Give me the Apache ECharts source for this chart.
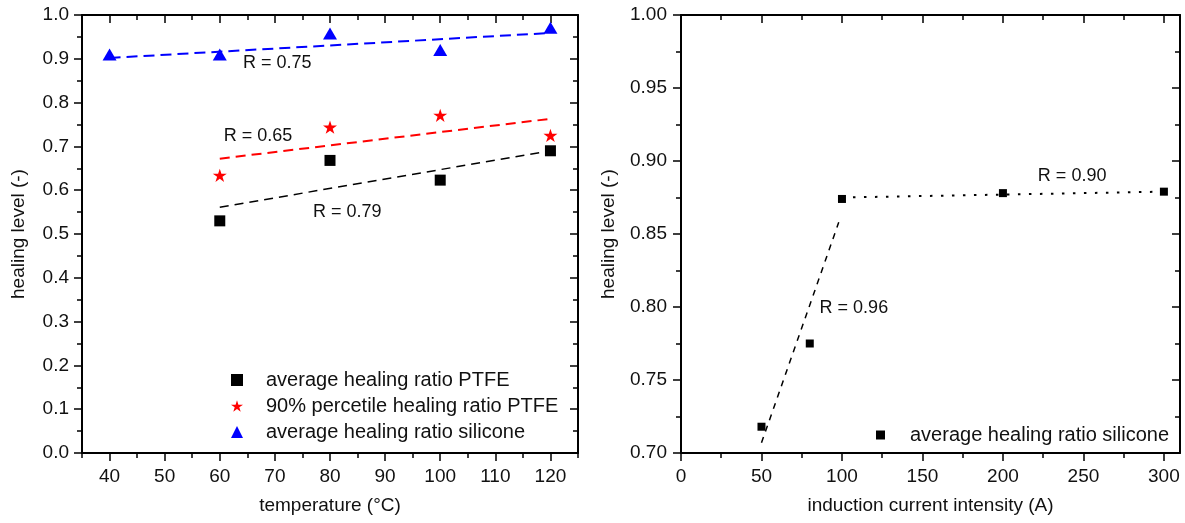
<!DOCTYPE html>
<html>
<head>
<meta charset="utf-8">
<script src="https://cdn.jsdelivr.net/npm/echarts@6/dist/echarts.min.js"></script>
<style>
  html, body { margin: 0; padding: 0; background: #fff; }
  #chart { width: 1185px; height: 523px; }
</style>
</head>
<body>
<div id="chart"></div>
<script>
// --- Données : panneau gauche (température) ---
const temperature = [60, 80, 100, 120];
const ptfeAverage = [0.530, 0.668, 0.623, 0.690];
const ptfeP90 = [0.634, 0.744, 0.771, 0.725];
const siliconeTemperature = [40, 60, 80, 100, 120];
const siliconeAverage = [0.910, 0.910, 0.958, 0.920, 0.971];

// droites de régression (extrémités)
const ptfeAverageFitX = [60, 120];
const ptfeAverageFitY = [0.561, 0.690];
const ptfeP90FitX = [60, 120];
const ptfeP90FitY = [0.672, 0.763];
const siliconeFitX = [40, 120];
const siliconeFitY = [0.902, 0.959];

const leftRText = ['R = 0.75', 'R = 0.65', 'R = 0.79'];
const leftRX = [64.2, 60.7, 76.9];
const leftRY = [0.890, 0.724, 0.550];

// --- Données : panneau droit (intensité) ---
const current = [50, 80, 100, 200, 300];
const siliconeCurrent = [0.718, 0.775, 0.874, 0.878, 0.879];
const steepFitX = [50, 98];
const steepFitY = [0.707, 0.858];
const flatFitX = [100, 300];
const flatFitY = [0.875, 0.879];

const rightRText = ['R = 0.96', 'R = 0.90'];
const rightRX = [86.1, 221.7];
const rightRY = [0.799, 0.890];

// --- Graduations ---
const leftXMajor = [40, 50, 60, 70, 80, 90, 100, 110, 120];
const leftXMinor = [35, 45, 55, 65, 75, 85, 95, 105, 115, 125];
const leftYMajor = [0, 0.1, 0.2, 0.3, 0.4, 0.5, 0.6, 0.7, 0.8, 0.9, 1.0];
const leftYMinor = [0.05, 0.15, 0.25, 0.35, 0.45, 0.55, 0.65, 0.75, 0.85, 0.95];
const rightXMajor = [0, 50, 100, 150, 200, 250, 300];
const rightXMinor = [25, 75, 125, 175, 225, 275];
const rightYMajor = [0.70, 0.75, 0.80, 0.85, 0.90, 0.95, 1.00];
const rightYMinor = [0.725, 0.775, 0.825, 0.875, 0.925, 0.975];

const FONT = '"Liberation Sans", Arial, sans-serif';
const TEXT = '#111';

const zip = (xs, ys) => xs.map((x, i) => [x, ys[i]]);

/**
 * Construit les 4 axes d'une direction (principal + mineur, de chaque côté du cadre)
 */
function frameAxes(gridIndex, min, max, majors, minors, sides, opts) {
    const axes = [];
    sides.forEach((pos, i) => {
        const outer = i === 0;
        [[majors, 8], [minors, 5]].forEach(([vals, len], j) => {
            const a = {
                type: 'value', gridIndex, min, max, position: pos,
                splitLine: { show: false },
                axisLine: { show: false, onZero: false },
                axisTick: {
                    show: true, inside: !outer, length: len, customValues: vals,
                    lineStyle: { color: '#000', width: 1.5 }
                },
                axisLabel: { show: false }
            };
            if (j === 0) {
                a.axisLine = { show: true, onZero: false, lineStyle: { color: '#000', width: 2 } };
                if (outer) {
                    a.axisLabel = {
                        show: true, customValues: majors, margin: opts.margin,
                        formatter: v => v.toFixed(opts.digits),
                        fontSize: 19, color: TEXT, fontFamily: FONT
                    };
                    a.name = opts.name;
                    a.nameLocation = 'middle';
                    a.nameGap = opts.gap;
                    a.nameTextStyle = { fontSize: 19, color: TEXT, fontFamily: FONT };
                }
            }
            axes.push(a);
        });
    });
    return axes;
}

const xAxis = [
    ...frameAxes(0, 35, 125, leftXMajor, leftXMinor, ['bottom', 'top'],
        { digits: 0, margin: 14, name: 'temperature (°C)', gap: 43 }),
    ...frameAxes(1, 0, 310, rightXMajor, rightXMinor, ['bottom', 'top'],
        { digits: 0, margin: 14, name: 'induction current intensity (A)', gap: 43 })
];
const yAxis = [
    ...frameAxes(0, 0, 1, leftYMajor, leftYMinor, ['left', 'right'],
        { digits: 1, margin: 13, name: 'healing level (-)', gap: 54 }),
    ...frameAxes(1, 0.7, 1.0, rightYMajor, rightYMinor, ['left', 'right'],
        { digits: 2, margin: 14, name: 'healing level (-)', gap: 63 })
];

const STAR = 'path://M50,0L61.2,34.5L97.6,34.5L68.2,55.9L79.4,90.5L50,69.1L20.6,90.5L31.8,55.9L2.4,34.5L38.8,34.5Z';

function scatter(name, grid, data, symbol, size, color) {
    return {
        type: 'scatter', name, xAxisIndex: grid * 4, yAxisIndex: grid * 4,
        data, symbol, symbolSize: size, symbolKeepAspect: true,
        itemStyle: { color, opacity: 1 }, z: 5
    };
}

function fit(grid, xs, ys, color, type, width) {
    return {
        type: 'line', xAxisIndex: grid * 4, yAxisIndex: grid * 4,
        data: zip(xs, ys), symbol: 'none', silent: true,
        lineStyle: { color, type, width }, z: 3
    };
}

function rLabels(grid, texts, xs, ys) {
    return {
        type: 'scatter', xAxisIndex: grid * 4, yAxisIndex: grid * 4,
        symbolSize: 0, silent: true,
        itemStyle: { opacity: 1 },
        data: texts.map((t, i) => ({ name: t, value: [xs[i], ys[i]] })),
        label: {
            show: true, position: 'right', distance: 0, formatter: '{b}',
            fontSize: 18, color: TEXT, fontFamily: FONT
        }
    };
}

const names = [
    'average healing ratio PTFE',
    '90% percetile healing ratio PTFE',
    'average healing ratio silicone',
    'average healing ratio silicone ' // panneau droit
];

const legendText = (padLeft) => ({
    fontSize: 20, lineHeight: 20, color: TEXT, fontFamily: FONT,
    padding: [0, 0, 0, padLeft]
});

const option = {
    backgroundColor: '#fff',
    animation: false,
    grid: [
        { left: 82, right: 607, top: 15, bottom: 70 },
        { left: 681, right: 5, top: 15, bottom: 70 }
    ],
    xAxis,
    yAxis,
    legend: [
        {
            data: names.slice(0, 3), orient: 'vertical', left: 226, top: 365,
            itemWidth: 12, itemHeight: 12, itemGap: 6, selectedMode: false,
            textStyle: legendText(18)
        },
        {
            data: [names[3]], orient: 'vertical', left: 871, top: 420,
            itemWidth: 9, itemHeight: 9, selectedMode: false,
            textStyle: legendText(20)
        }
    ],
    series: [
        fit(0, ptfeAverageFitX, ptfeAverageFitY, '#000', [9, 6], 1.5),
        fit(0, ptfeP90FitX, ptfeP90FitY, '#ff0000', [10, 6], 2),
        fit(0, siliconeFitX, siliconeFitY, '#0000ff', [11, 6], 2),
        scatter(names[0], 0, zip(temperature, ptfeAverage), 'rect', 11, '#000'),
        scatter(names[1], 0, zip(temperature, ptfeP90), STAR, 14, '#ff0000'),
        scatter(names[2], 0, zip(siliconeTemperature, siliconeAverage), 'triangle', [14, 12], '#0000ff'),
        rLabels(0, leftRText, leftRX, leftRY),

        fit(1, steepFitX, steepFitY, '#000', [6, 6], 1.5),
        fit(1, flatFitX, flatFitY, '#000', [2.5, 8.5], 2),
        scatter(names[3], 1, zip(current, siliconeCurrent), 'rect', 8, '#000'),
        rLabels(1, rightRText, rightRX, rightRY)
    ]
};

const chart = echarts.init(document.getElementById('chart'));
chart.setOption(option);
</script>
</body>
</html>
